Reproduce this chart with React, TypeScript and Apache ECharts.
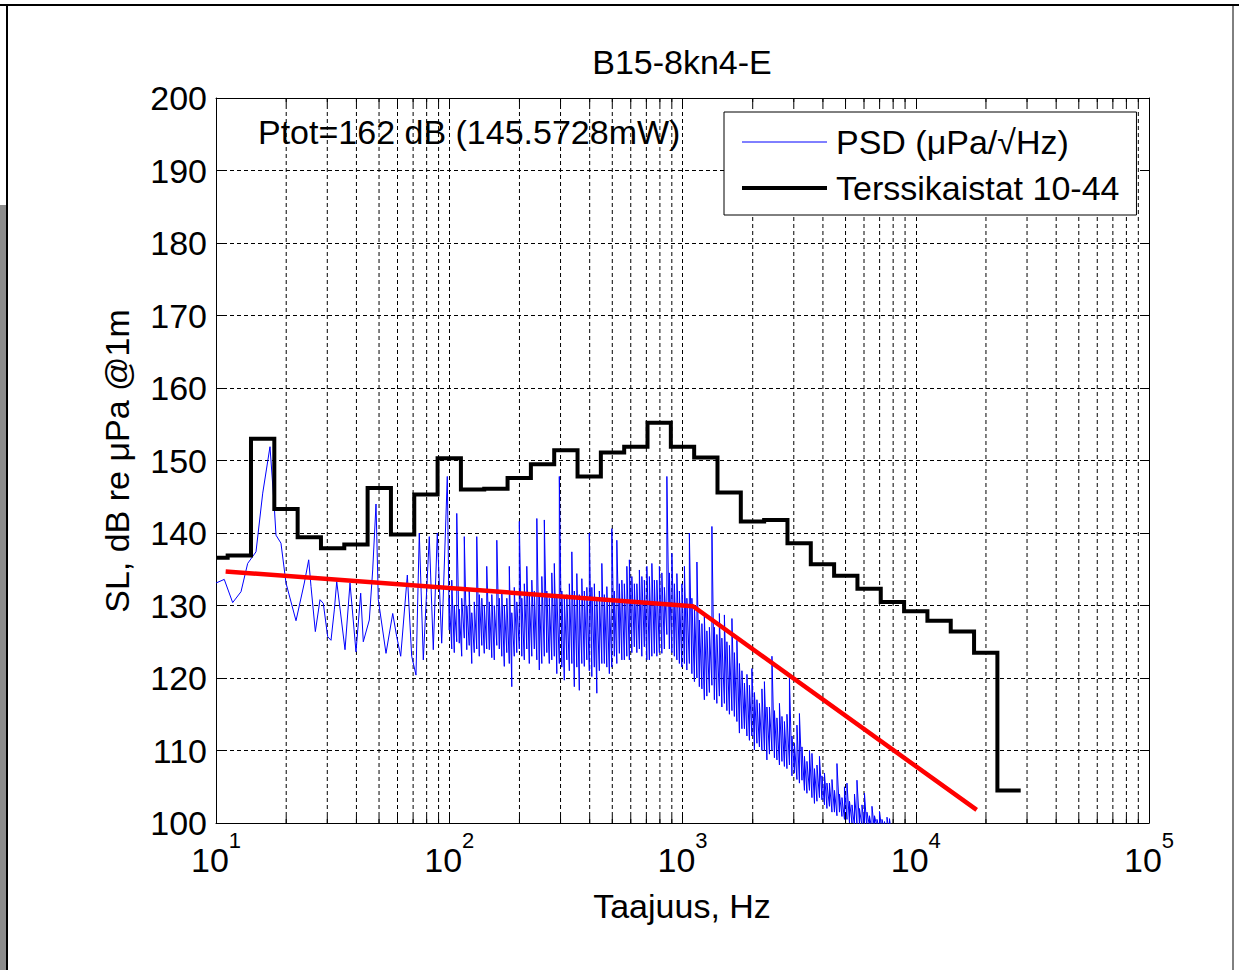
import React, { useEffect, useRef } from "react";
import * as echarts from "echarts";

const titleText = "B15-8kn4-E";
const xAxisName = "Taajuus, Hz";
const yAxisName = "SL, dB re μPa @1m";
const annotationText = "Ptot=162 dB (145.5728mW)";
const psdName = "PSD (μPa/√Hz)";
const bandName = "Terssikaistat 10-44";
const limitName = "limit";

const xMin = 10;
const xMax = 100000;
const yMin = 100;
const yMax = 200;
const yStep = 10;

// third-octave band numbers (centre = 10^(n/10) Hz) and band levels, dB
const bandNumbers = [
  10, 11, 12, 13, 14, 15, 16, 17, 18, 19, 20, 21, 22, 23, 24, 25, 26, 27, 28,
  29, 30, 31, 32, 33, 34, 35, 36, 37, 38, 39, 40, 41, 42, 43, 44,
];
const bandLevels = [
  136.6, 136.9, 153.0, 143.3, 139.4, 137.9, 138.4, 146.2, 139.8, 145.3, 150.3,
  146.0, 146.1, 147.6, 149.5, 151.4, 147.8, 151.1, 151.9, 155.2, 151.9, 150.4,
  145.6, 141.6, 141.8, 138.6, 135.7, 134.1, 132.3, 130.5, 129.2, 127.9, 126.4,
  123.5, 104.5,
];

// PSD below 100 Hz (single trace points): frequency, Hz / level, dB
const psdLowFreq = [
  10.0, 10.85, 11.79, 12.8, 13.67, 14.84, 15.86, 17.04, 17.78, 18.08, 18.99,
  19.96, 22.03, 23.91, 24.97, 25.55, 26.66, 27.92, 28.84, 30.12, 31.12, 32.16,
  32.93, 35.74, 37.54, 39.83, 41.72, 42.8, 45.42, 46.97, 48.53, 49.64, 53.56,
  57.24, 59.54, 61.93, 66.12, 69.02, 72.01, 74.4, 77.4, 82.12, 85.42, 88.86,
  92.82, 98.08,
];
const psdLowLevel = [
  133.1, 133.6, 130.4, 131.9, 135.8, 137.4, 145.5, 151.9, 143.6, 139.7, 138.6,
  133.1, 127.9, 133.1, 136.3, 132.6, 126.4, 130.8, 130.3, 125.7, 125.2, 129.4,
  133.3, 123.9, 133.1, 123.6, 131.7, 125.0, 128.0, 134.9, 144.0, 130.8, 123.4,
  128.9, 125.7, 123.0, 134.2, 123.0, 120.4, 140.0, 122.5, 139.5, 123.9, 140.0,
  124.8, 147.8,
];

// PSD above 100 Hz, dense part: per frequency bin the lowest and highest level, dB
const psdBinFreq = [
  100, 102.5, 105.1, 107.7, 110.4, 113.1, 116.0, 118.9, 121.8, 124.9, 128.0,
  131.2, 134.5, 137.9, 141.3, 144.8, 148.5, 152.2, 156.0, 159.9, 163.9, 168.0,
  172.2, 176.5, 180.9, 185.4, 190.0, 194.8, 199.7, 204.7, 209.8, 215.0, 220.4,
  225.9, 231.6, 237.4, 243.3, 249.4, 255.6, 262.0, 268.5, 275.2, 282.1, 289.2,
  296.4, 303.8, 311.4, 319.2, 327.2, 335.4, 343.7, 352.3, 361.1, 370.2, 379.4,
  388.9, 398.6, 408.6, 418.8, 429.3, 440.0, 451.0, 462.3, 473.8, 485.7, 497.8,
  510.3, 523.0, 536.1, 549.5, 563.2, 577.3, 591.8, 606.5, 621.7, 637.3, 653.2,
  669.5, 686.2, 703.4, 721.0, 739.0, 757.5, 776.4, 795.8, 815.7, 836.1, 857.0,
  878.5, 900.4, 922.9, 946.0, 969.7, 993.9, 1019, 1044, 1070, 1097, 1125, 1153,
  1181, 1211, 1241, 1272, 1304, 1337, 1370, 1404, 1439, 1475, 1512, 1550, 1589,
  1629, 1669, 1711, 1754, 1798, 1843, 1889, 1936, 1984, 2034, 2085, 2137, 2190,
  2245, 2301, 2359, 2418, 2478, 2540, 2604, 2669, 2735, 2804, 2874, 2946, 3019,
  3095, 3172, 3252, 3333, 3416, 3502, 3589, 3679, 3771, 3865, 3962, 4061, 4162,
  4266, 4373, 4482, 4594, 4709, 4827, 4947, 5071, 5198, 5328, 5461, 5597, 5737,
  5881, 6028, 6178, 6333, 6491, 6653, 6820, 6990, 7165, 7344, 7528, 7716, 7909,
  8107, 8309, 8517,
];
const psdBinMin = [
  126.6, 124.0, 123.5, 125.0, 124.8, 123.0, 125.5, 123.9, 124.5, 122.0, 123.5,
  124.0, 123.0, 124.5, 123.4, 124.0, 123.9, 122.8, 122.5, 124.5, 124.0, 123.0,
  121.6, 123.5, 122.0, 118.8, 123.0, 123.5, 124.0, 123.0, 122.5, 124.0, 122.0,
  123.0, 124.0, 122.5, 121.1, 122.0, 123.0, 123.5, 122.0, 122.5, 123.0, 120.6,
  122.0, 121.5, 119.7, 122.5, 121.0, 122.0, 118.8, 121.5, 118.3, 122.0, 121.6,
  122.5, 121.0, 120.2, 121.5, 117.9, 121.0, 122.0, 122.0, 121.5, 120.6, 121.5,
  123.0, 122.0, 123.4, 122.5, 122.5, 123.0, 122.5, 123.5, 124.3, 123.5, 124.0,
  123.0, 124.3, 122.5, 122.5, 123.0, 123.4, 123.0, 123.5, 123.4, 124.0, 126.0,
  124.0, 123.5, 123.0, 122.5, 122.0, 121.5, 122.0, 121.1, 122.0, 120.6, 119.5,
  120.0, 118.8, 118.5, 117.0, 117.5, 118.0, 119.0, 117.0, 116.5, 117.5, 116.0,
  116.5, 115.5, 115.0, 115.5, 114.7, 114.0, 112.4, 113.0, 113.0, 112.0, 111.4,
  112.0, 110.1, 111.0, 110.5, 110.0, 110.0, 108.7, 109.5, 110.0, 109.0, 108.7,
  108.0, 108.5, 107.8, 107.5, 108.0, 106.5, 106.9, 106.0, 105.5, 105.9, 104.5,
  104.1, 104.5, 103.5, 102.7, 103.0, 103.5, 103.2, 102.5, 102.0, 102.3, 101.5,
  101.5, 101.0, 101.5, 100.9, 100.5, 100.5, 100.0, 100.0, 99.5, 99.8, 99.8, 99.5,
  99.5, 99.0, 99.6, 99.0, 99.0, 99.5, 99.0, 98.8, 99.0, 98.5, 98.5, 98.0, 98.0,
  97.5, 97.0,
];
const psdBinMax = [
  131.0, 133.5, 130.0, 142.7, 129.5, 131.0, 139.5, 130.0, 132.0, 129.0, 130.5,
  139.5, 131.5, 131.0, 130.0, 135.4, 130.5, 131.5, 130.0, 139.0, 131.0, 132.0,
  130.0, 131.0, 135.4, 129.0, 132.5, 130.5, 141.6, 131.0, 133.0, 135.4, 131.5,
  133.5, 132.0, 142.0, 131.5, 134.0, 141.8, 132.0, 131.0, 134.5, 135.8, 131.5,
  147.8, 132.0, 131.0, 131.5, 133.0, 137.4, 132.0, 134.4, 131.5, 133.7, 132.0,
  132.5, 140.0, 132.5, 133.0, 131.0, 132.0, 135.8, 131.5, 132.6, 131.0, 140.6,
  132.0, 139.0, 133.0, 133.5, 133.0, 135.4, 136.3, 134.0, 133.0, 133.0, 134.9,
  134.0, 133.5, 135.4, 134.0, 135.8, 133.5, 133.5, 135.4, 134.5, 132.5, 147.8,
  134.5, 137.2, 133.0, 134.4, 132.0, 133.0, 135.4, 131.0, 140.0, 131.0, 130.0,
  136.0, 128.0, 127.5, 128.5, 126.5, 127.0, 140.9, 127.0, 126.0, 128.9, 125.5,
  128.7, 125.0, 124.5, 128.2, 123.5, 125.2, 122.0, 121.0, 119.3, 120.5, 119.0,
  121.3, 118.0, 117.0, 116.5, 118.5, 119.5, 116.0, 116.0, 123.0, 115.5, 114.5,
  116.5, 114.7, 114.0, 115.0, 120.2, 112.0, 111.0, 113.5, 115.1, 110.5, 109.2,
  108.5, 110.0, 109.6, 107.5, 108.0, 109.2, 106.5, 106.9, 105.5, 105.5, 106.0,
  104.5, 108.2, 104.0, 103.5, 105.0, 105.5, 103.0, 102.5, 104.0, 105.9, 102.0,
  102.5, 104.1, 101.5, 101.0, 102.3, 101.0, 100.5, 101.6, 100.5, 100.2, 100.8,
  100.6, 99.8, 99.5, 99.0, 98.5,
];

// red reference line (frequency, Hz / level, dB)
const limitFreq = [11, 1110, 18250];
const limitLevel = [134.7, 129.9, 101.8];

const decades = [10, 100, 1000, 10000];
const minorMultipliers = [2, 3, 4, 5, 6, 7, 8, 9];

const FONT = "Arial, 'Liberation Sans', Helvetica, sans-serif";
const FS = 34;

export default function App() {
  const ref = useRef<HTMLDivElement>(null);

  useEffect(() => {
    if (!ref.current) return;
    const chart = echarts.init(ref.current, undefined, { renderer: "svg" });

    const bandData: number[][] = [];
    bandNumbers.forEach((n, i) => {
      const lo = Math.max(Math.pow(10, (n - 0.5) / 10), xMin);
      const hi = Math.pow(10, (n + 0.5) / 10);
      bandData.push([lo, bandLevels[i]]);
      bandData.push([hi, bandLevels[i]]);
    });
    const psdData: number[][] = psdLowFreq.map((f, i) => [f, psdLowLevel[i]]);
    psdBinFreq.forEach((f, i) => {
      psdData.push([f, psdBinMin[i]]);
      psdData.push([f, psdBinMax[i]]);
    });
    const limitData = limitFreq.map((f, i) => [f, limitLevel[i]]);
    const minorData: number[][] = [];
    decades.forEach((d) =>
      minorMultipliers.forEach((m) => minorData.push([d * m, yMin]))
    );

    const dash = [4, 3];
    const tickLen = 7;

    const option: any = {
      animation: false,
      backgroundColor: "#ffffff",
      textStyle: { fontFamily: FONT, color: "#000" },
      grid: { left: 216, right: 90, top: 98, bottom: 147, containLabel: false },
      legend: {
        show: true,
        left: 724,
        top: 112,
        orient: "vertical",
        selectedMode: false,
        data: [
          { name: psdName, lineStyle: { color: "#0000ff", width: 1 } },
          { name: bandName, lineStyle: { color: "#000000", width: 4 } },
        ],
        itemWidth: 85,
        itemHeight: 14,
        itemGap: 10,
        padding: [12, 17, 9, 16],
        backgroundColor: "#ffffff",
        borderColor: "#000000",
        borderWidth: 1,
        borderRadius: 0,
        itemStyle: { opacity: 0 },
        textStyle: {
          fontSize: FS,
          fontFamily: FONT,
          color: "#000",
          lineHeight: 36,
          padding: [0, 0, 0, 4],
        },
      },
      xAxis: [
        {
          type: "log",
          logBase: 10,
          min: xMin,
          max: xMax,
          position: "bottom",
          axisLine: { show: true, onZero: false, lineStyle: { color: "#000", width: 1 } },
          axisTick: { show: true, inside: true, length: tickLen, lineStyle: { color: "#000" } },
          axisLabel: {
            margin: 6,
            color: "#000",
            formatter: (v: number) => `{b|10}{e|${Math.round(Math.log10(v))}}`,
            rich: {
              b: { fontSize: FS, fontFamily: FONT, color: "#000", padding: [14, 0, 0, 0] },
              e: { fontSize: 22, fontFamily: FONT, color: "#000", verticalAlign: "top" },
            },
          },
          splitLine: { show: true, lineStyle: { color: "#000", width: 1, type: dash } },
        },
        {
          type: "log",
          logBase: 10,
          min: xMin,
          max: xMax,
          position: "top",
          axisLine: { show: true, onZero: false, lineStyle: { color: "#000", width: 1 } },
          axisTick: { show: true, inside: true, length: tickLen, lineStyle: { color: "#000" } },
          axisLabel: { show: false },
          splitLine: { show: false },
        },
      ],
      yAxis: [
        {
          type: "value",
          min: yMin,
          max: yMax,
          interval: yStep,
          position: "left",
          axisLine: { show: true, onZero: false, lineStyle: { color: "#000", width: 1 } },
          axisTick: { show: true, inside: true, length: tickLen, lineStyle: { color: "#000" } },
          axisLabel: { margin: 9, fontSize: FS, fontFamily: FONT, color: "#000" },
          splitLine: { show: true, lineStyle: { color: "#000", width: 1, type: dash } },
        },
        {
          type: "value",
          min: yMin,
          max: yMax,
          interval: yStep,
          position: "right",
          axisLine: { show: true, onZero: false, lineStyle: { color: "#000", width: 1 } },
          axisTick: { show: true, inside: true, length: tickLen, lineStyle: { color: "#000" } },
          axisLabel: { show: false },
          splitLine: { show: false },
        },
      ],
      series: [
        {
          name: "minorGrid",
          type: "custom",
          xAxisIndex: 0,
          yAxisIndex: 0,
          silent: true,
          z: 1,
          data: minorData,
          renderItem: (params: any, api: any) => {
            const f = api.value(0);
            const b = api.coord([f, yMin]);
            const t = api.coord([f, yMax]);
            return {
              type: "group",
              children: [
                {
                  type: "line",
                  shape: { x1: b[0], y1: b[1], x2: t[0], y2: t[1] },
                  style: { stroke: "#000", lineWidth: 1, lineDash: dash },
                },
                {
                  type: "line",
                  shape: { x1: b[0], y1: b[1], x2: b[0], y2: b[1] - tickLen },
                  style: { stroke: "#000", lineWidth: 1 },
                },
                {
                  type: "line",
                  shape: { x1: t[0], y1: t[1], x2: t[0], y2: t[1] + tickLen },
                  style: { stroke: "#000", lineWidth: 1 },
                },
              ],
            };
          },
        },
        {
          name: psdName,
          type: "line",
          xAxisIndex: 0,
          yAxisIndex: 0,
          data: psdData,
          showSymbol: false,
          symbol: "none",
          clip: true,
          z: 2,
          lineStyle: { color: "#0000ff", width: 1 },
          itemStyle: { color: "#0000ff" },
        },
        {
          name: bandName,
          type: "line",
          xAxisIndex: 0,
          yAxisIndex: 0,
          data: bandData,
          showSymbol: false,
          symbol: "none",
          clip: true,
          z: 3,
          lineStyle: { color: "#000000", width: 4, join: "miter" },
          itemStyle: { color: "#000000" },
        },
        {
          name: limitName,
          type: "line",
          xAxisIndex: 0,
          yAxisIndex: 0,
          data: limitData,
          showSymbol: false,
          symbol: "none",
          clip: true,
          z: 4,
          lineStyle: { color: "#ff0000", width: 4.5 },
          itemStyle: { color: "#ff0000" },
        },
      ],
      graphic: [
        { type: "rect", shape: { x: 0, y: 205, width: 6, height: 765 }, style: { fill: "#8c8c8c" }, silent: true },
        { type: "line", shape: { x1: 0, y1: 5, x2: 1239, y2: 5 }, style: { stroke: "#000", lineWidth: 2 }, silent: true },
        { type: "line", shape: { x1: 7, y1: 5, x2: 7, y2: 970 }, style: { stroke: "#000", lineWidth: 2 }, silent: true },
        { type: "line", shape: { x1: 1233, y1: 5, x2: 1233, y2: 970 }, style: { stroke: "#000", lineWidth: 1 }, silent: true },
        {
          type: "text",
          x: 682,
          y: 62,
          style: { text: titleText, font: `${FS}px ${FONT}`, fill: "#000", textAlign: "center", textVerticalAlign: "middle" },
        },
        {
          type: "text",
          x: 258,
          y: 132,
          z: 10,
          style: { text: annotationText, font: `${FS}px ${FONT}`, fill: "#000", textAlign: "left", textVerticalAlign: "middle" },
        },
        {
          type: "text",
          x: 682,
          y: 906,
          style: { text: xAxisName, font: `${FS}px ${FONT}`, fill: "#000", textAlign: "center", textVerticalAlign: "middle" },
        },
        {
          type: "text",
          x: 117,
          y: 461,
          rotation: Math.PI / 2,
          style: { text: yAxisName, font: `${FS}px ${FONT}`, fill: "#000", textAlign: "center", textVerticalAlign: "middle" },
        },
      ],
    };

    chart.setOption(option);
    return () => chart.dispose();
  }, []);

  return (
    <div
      ref={ref}
      style={{ position: "fixed", left: 0, top: 0, width: 1239, height: 970, background: "#fff" }}
    />
  );
}
